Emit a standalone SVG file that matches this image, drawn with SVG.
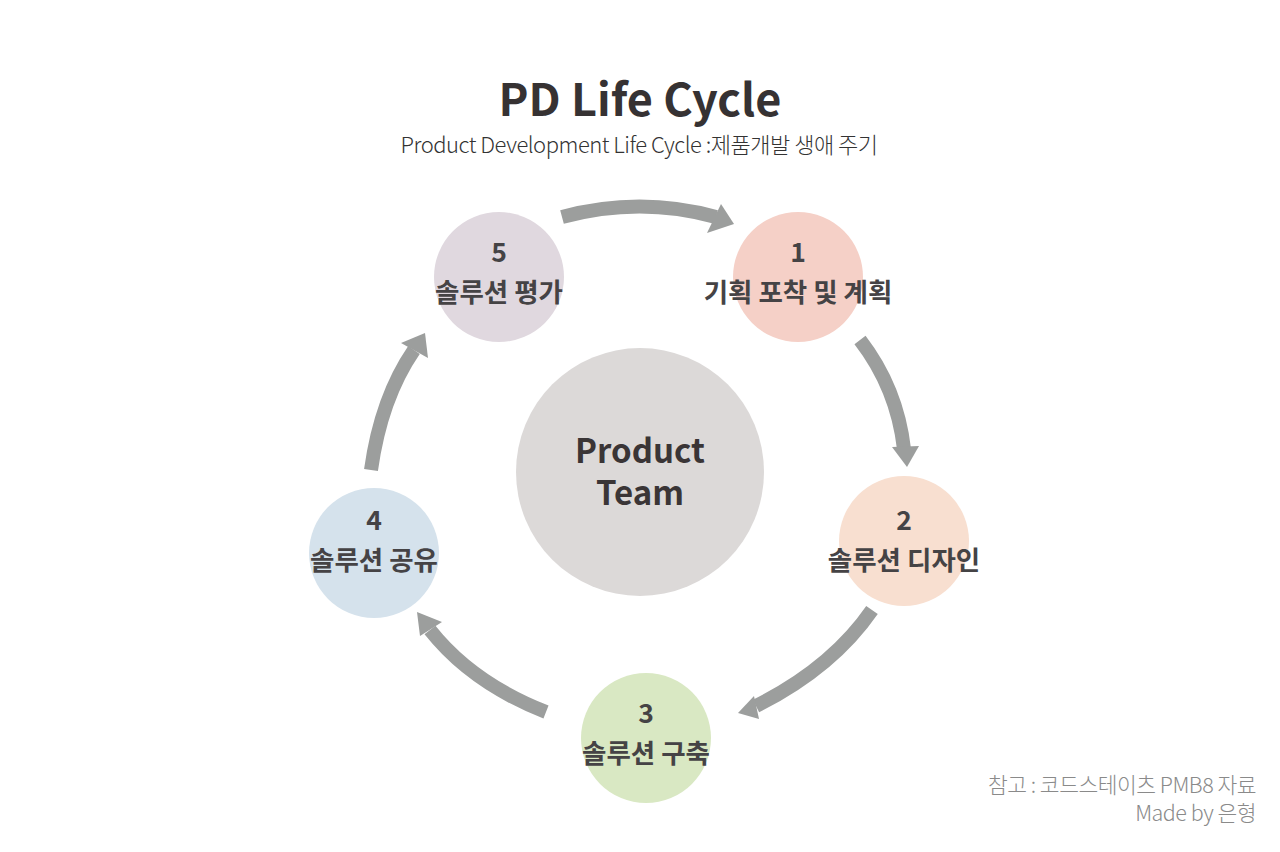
<svg xmlns="http://www.w3.org/2000/svg" width="1280" height="852" viewBox="0 0 1280 852">
<style>
text{font-family:"Noto Sans CJK KR","Noto Sans",sans-serif;}
.title{font-size:45px;font-weight:700;fill:#363233;text-anchor:middle;}
.sub{font-size:22px;font-weight:300;fill:#333;text-anchor:middle;letter-spacing:-0.5px;}
.lbl{font-size:26.5px;font-weight:700;fill:#454345;text-anchor:middle;}
.center{font-size:33px;font-weight:700;fill:#3a3536;text-anchor:middle;}
.foot{font-size:21.5px;font-weight:300;fill:#8a8a8a;text-anchor:end;letter-spacing:-0.5px;}
.shaft{fill:none;stroke:#9c9e9d;stroke-width:14;}
.head{fill:#9c9e9d;}
</style>
<rect width="1280" height="852" fill="#ffffff"/>
<text class="title" x="640" y="116">PD Life Cycle</text>
<text class="sub" x="639" y="153">Product Development Life Cycle :제품개발 생애 주기</text>

<g id="center">
<circle cx="640" cy="472" r="124" fill="#dcd9d8"/>
<text class="center" x="640" y="463">Product</text>
<text class="center" x="640" y="505">Team</text>
</g>
<g id="node1">
<circle cx="798" cy="277" r="65" fill="#f5d0c7"/>
<text class="lbl" x="798" y="262">1</text>
<text class="lbl" x="798" y="302">기획 포착 및 계획</text>
</g>
<g id="node2">
<circle cx="904" cy="541" r="65" fill="#f8dfd0"/>
<text class="lbl" x="904" y="530">2</text>
<text class="lbl" x="904" y="570">솔루션 디자인</text>
</g>
<g id="node3">
<circle cx="646" cy="738" r="65" fill="#d9e8c3"/>
<text class="lbl" x="646" y="723">3</text>
<text class="lbl" x="646" y="763">솔루션 구축</text>
</g>
<g id="node4">
<circle cx="374" cy="553" r="65" fill="#d5e2ec"/>
<text class="lbl" x="374" y="530">4</text>
<text class="lbl" x="374" y="570">솔루션 공유</text>
</g>
<g id="node5">
<circle cx="499" cy="277" r="65" fill="#e0d8df"/>
<text class="lbl" x="499" y="262">5</text>
<text class="lbl" x="499" y="302">솔루션 평가</text>
</g>

<g id="connectors">
<path class="shaft" d="M 562 217 Q 640 196 716 217"/>
<polygon class="head" points="734,224 721,204 707,233"/>
<path class="shaft" d="M 860 340 Q 897 388 904 449"/>
<polygon class="head" points="907,467 892,447 919,446"/>
<path class="shaft" d="M 872 610 Q 832 668 756 706"/>
<polygon class="head" points="738,713 754,696 759,719"/>
<path class="shaft" d="M 546 712 Q 472 683 430 630"/>
<polygon class="head" points="417,612 442,622 420,636"/>
<path class="shaft" d="M 371 470 Q 381 398 414 350"/>
<polygon class="head" points="425,333 401,343 428,358"/>
</g>

<text class="foot" x="1256" y="793">참고 : 코드스테이츠 PMB8 자료</text>
<text class="foot" x="1256" y="821">Made by 은형</text>
</svg>
